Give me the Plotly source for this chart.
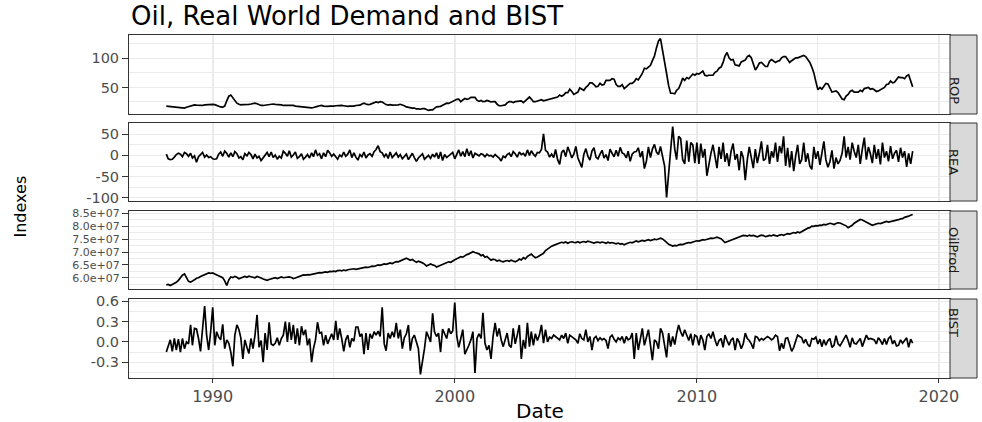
import pandas as pd
import plotly.graph_objects as go

# ---------------- data (monthly, Feb 1988 .. Dec 2018) ----------------
start_month = "1988-02-01"

rop = [
    18, 17.5, 17, 17, 16.5, 16, 15.5, 15, 14, 14.5, 16,
    17, 17.5, 18.5, 20, 19.5, 19, 19.5, 19, 20, 20.5, 20, 21,
    21, 20.5, 19, 17, 16.5, 16, 18, 27, 35, 37, 32, 26,
    23, 21, 20, 20.5, 20.5, 20, 21, 21.5, 22, 23, 22, 20,
    19, 19, 19.5, 20, 21, 22, 21.5, 21, 21, 21, 20, 19,
    19, 19.5, 19.5, 19.5, 19, 18, 17.5, 17, 17, 17, 16, 15,
    15, 15, 15.5, 16, 17.5, 18.5, 19, 18, 17.5, 17.5, 18, 17.5,
    18, 18.5, 19, 19.5, 19, 18.5, 17.5, 17.5, 18, 17.5, 18, 19,
    19.5, 19.5, 21.5, 23, 21.5, 20.5, 21, 22, 23.5, 25, 24, 25.5,
    25, 22, 20.5, 19.5, 20.5, 19.5, 19.5, 20, 20, 21, 20, 18.5,
    16.5, 15.5, 14.5, 14.5, 14.5, 13, 13, 12.5, 13.5, 13.5, 12, 10.5,
    11.5, 11.5, 14, 16.5, 17, 17.5, 19.5, 21, 23, 22.5, 24.5, 26,
    27, 29.5, 30, 25.5, 28.5, 31, 29.5, 30.5, 33, 32.5, 33, 28,
    26, 27.5, 25.5, 26, 27.5, 26.5, 25, 25.5, 25.5, 21, 18.5, 18.5,
    19, 20, 23.5, 25.5, 25.5, 24, 25.5, 26, 27.5, 27, 24, 27,
    31, 33.5, 30, 25.5, 25.5, 27, 28, 29, 27, 28, 28, 29,
    31, 31, 33, 33.5, 37, 35, 37, 41, 41, 47, 43, 38,
    40, 42, 49, 47, 45, 50, 53, 58, 58, 55, 51, 52,
    57, 54, 55, 62, 62, 62, 65, 64, 55, 52, 52, 55,
    48, 52, 54, 57, 57, 60, 65, 63, 69, 74, 83, 82,
    85, 88, 96, 104, 118, 130, 134, 115, 98, 74, 53, 40,
    40, 39, 45, 48, 56, 66, 62, 67, 65, 70, 73, 71,
    74, 73, 75, 78, 71, 70, 71, 71, 71, 76, 78, 83,
    85, 93, 104, 110, 101, 97, 98, 89, 88, 87, 94, 96,
    97, 103, 105, 101, 92, 80, 85, 92, 93, 89, 86, 86,
    95, 98, 95, 93, 95, 96, 101, 103, 103, 99, 93, 96,
    98, 101, 101, 102, 103, 105, 103, 98, 93, 85, 75, 60,
    46, 50, 47, 52, 57, 56, 48, 42, 43, 44, 41, 36,
    30, 29, 35, 38, 43, 45, 42, 42, 42, 45, 43, 48,
    49, 50, 47, 48, 46, 43, 44, 46, 49, 50, 55, 56,
    61, 58, 59, 63, 68, 67, 67, 65, 70, 72, 60, 51,
]

rea = [
    3, -8, -10, -9, -4, 2, 5, 3, -3, 7, 4,
    -2, 5, -6, -1, -16, -3, 2, 7, -4, 1, -5, -3,
    -8, -9, -8, 3, 8, -2, 10, 5, -4, 6, -3, 9,
    4, -6, -3, -10, 4, -1, 7, 2, -8, 3, -6, -2,
    -12, -5, 3, 7, -3, 8, -5, 1, -9, -2, -6, 10,
    5, -2, 11, -4, 1, 8, -7, -3, 4, -9, -4, 2,
    -6, 6, -3, 13, 0, 4, -8, 6, -3, 12, 6, -2,
    3, -4, -9, 1, -3, 8, -2, 3, 13, -5, 6, -4,
    -11, 2, -3, 8, -6, 1, 4, -2, 9, 14, 23, 9,
    6, -3, 4, -7, 8, -5, 1, 6, -4, 2, -8, -3,
    3, -10, -2, 5, -5, -14, -6, -2, 4, -9, -3, 0,
    -7, 3, -4, 6, -8, 8, -12, 2, -5, -1, 3, 7,
    -8, 4, 13, -2, 9, -3, 16, -1, 11, -6, 5, 2,
    -1, 4, 2, -3, 3, -1, 0, -4, 2, -2, -6, -13,
    -2, -5, 2, 5, -3, 9, 4, -4, 8, 2, 5, -2,
    13, 0, 11, 3, -2, 7, 6, 14, 51, 12, 8, -4,
    3, -5, 14, -10, -21, 7, 13, -3, 20, 8, -6, 3,
    21, -6, -16, -28, 2, 16, -2, -11, 10, 18, -4, -8,
    3, 12, -6, 2, -12, 15, 5, -3, 12, -2, 19, 6,
    3, -6, 10, -14, 3, 8, 9, 18, -4, 10, -31, -14,
    20, -5, 15, 26, 8, 2, 21, -2, -25, -99, -45, 20,
    68, 15, -10, 45, 40, -10, -20, 35, -15, 30, 25, -18,
    30, -20, 28, -5, 15, -48, -20, 5, 25, -5, -30, 20,
    -8, 30, -15, 5, -25, 10, 28, -10, 3, -35, 10, -5,
    -58, -10, 20, -5, -30, 15, -18, 5, 33, -12, -8, 25,
    -20, 10, -5, 30, -15, 22, 5, 45, -25, 18, -28, 10,
    -37, 0, 25, -20, -10, 30, -15, 5, -25, -33, 20, -8,
    10, -22, 5, 33, -10, -28, -15, 12, -31, -5, -20, -12,
    5, 45, -5, 20, -10, 30, 10, -5, 25, -20, 15, 42,
    -10, 20, 5, -18, 25, -8, 15, -21, 30, -5, 10, -14,
    22, -8, 5, 12, -15, 18, -5, 10, -27, 5, -20, 10,
]

oilprod_millions = [
    57.2, 57.4, 57.0, 57.3, 57.8, 58.2, 59.0, 60.2, 61.0, 61.5, 60.2,
    58.6, 58.3, 58.9, 59.2, 59.8, 60.0, 60.5, 60.9, 61.2, 61.6, 61.9, 61.7,
    61.9, 61.5, 61.2, 60.8, 60.5, 60.0, 58.8, 57.0, 59.2, 60.3, 60.1, 60.5,
    60.2, 59.6, 59.9, 60.3, 60.5, 60.2, 60.6, 60.4, 60.1, 60.0, 60.5, 60.3,
    59.9, 59.5, 59.2, 59.0, 59.3, 59.6, 59.8, 60.0, 59.7, 60.1, 60.3, 60.0,
    60.2, 60.4, 60.3, 60.1, 59.7, 59.9, 60.2, 60.6, 60.8, 61.1, 61.0, 61.2,
    61.1, 61.3, 61.5, 61.4, 61.8, 62.0, 61.9, 62.2, 62.3, 62.1, 62.5, 62.4,
    62.6, 62.4, 62.8, 62.9, 62.7, 63.0, 62.8, 63.1, 63.3, 63.2, 63.5, 63.3,
    63.5, 63.7, 63.6, 63.9, 64.1, 64.0, 64.3, 64.5, 64.4, 64.7, 65.0, 64.8,
    65.1, 65.4, 65.2, 65.6, 65.8, 65.5, 66.0, 66.3, 66.2, 66.6, 67.0, 67.3,
    67.6, 67.2, 66.8, 67.1, 66.5, 66.0, 66.4, 66.2, 65.8, 65.3, 64.6, 65.0,
    65.4, 65.0, 64.8, 64.2, 64.5, 64.7, 65.1, 65.5, 65.9, 66.2, 66.0, 66.6,
    67.0, 67.4, 67.8, 68.2, 68.0, 68.6, 69.0, 69.3, 69.6, 70.1, 69.8, 69.5,
    69.3, 68.6, 68.9, 68.0, 68.3, 67.5, 66.8, 67.2, 67.0, 66.5, 66.8, 66.4,
    66.2, 66.5, 66.7, 66.4, 66.8, 66.5, 66.2, 66.6, 67.3, 66.9, 67.8, 67.3,
    68.3, 68.8, 69.2, 68.4, 67.8, 68.1, 68.5, 68.9, 69.5, 70.6, 71.2, 71.8,
    72.3, 72.6, 72.8, 73.0, 73.5, 73.8, 73.6, 73.9, 73.4, 73.8, 74.0, 73.8,
    73.7, 74.0, 73.6, 73.9, 74.1, 73.8, 74.2, 74.0, 73.7, 73.5, 73.8, 73.9,
    73.6, 73.9, 73.7, 73.4, 73.8, 73.5, 73.7, 73.4, 73.2, 73.5, 73.1, 73.3,
    72.8, 73.2, 73.5, 73.8, 73.6, 74.1, 74.3, 74.0, 74.2, 74.5, 74.3, 74.6,
    74.8, 74.5, 74.9, 75.0, 74.8, 75.2, 75.4, 75.1, 74.6, 73.8, 73.0, 72.6,
    72.3, 72.6, 72.4, 72.8, 73.0, 72.9, 73.3, 73.5, 73.7, 73.6, 73.9, 74.2,
    74.4, 74.3, 74.6, 74.8, 74.7, 75.0, 75.2, 75.4, 75.3, 75.6, 75.8, 75.5,
    75.2, 74.4, 73.7, 74.0, 74.3, 74.6, 74.9, 75.3, 75.6, 76.0, 76.3, 76.5,
    76.4, 76.2, 76.6, 76.3, 76.5, 76.1, 75.9, 76.3, 76.6, 76.4, 76.0, 76.2,
    76.5, 76.3, 76.7, 76.4, 76.2, 76.6, 76.8, 76.5, 76.9, 77.2, 77.0, 77.4,
    77.6, 77.4, 77.8, 77.5, 78.0, 78.4, 78.8, 79.3, 79.5, 80.1, 80.0, 80.3,
    80.2, 80.5, 80.4, 80.8, 80.6, 80.9, 81.2, 81.0, 80.7, 81.1, 81.4, 81.3,
    81.0, 80.5, 80.2, 79.5, 79.8, 80.4, 81.2, 81.8, 82.3, 82.7, 82.5, 82.1,
    81.5, 81.0, 80.6, 80.4, 80.7, 81.0, 81.2, 81.1, 81.4, 81.6, 81.9, 81.7,
    81.9, 82.1, 82.0, 82.3, 82.6, 82.9, 83.0, 83.5, 83.9, 84.0, 84.3, 84.6,
]
oilprod_unit = 1e6

bist = [
    -0.15, -0.05, 0.03, -0.14, 0.05, -0.12, 0.04, -0.15, 0.05, -0.10, 0.00,
    -0.03, 0.25, -0.05, 0.20, 0.19, 0.05, -0.14, 0.20, 0.53, 0.10, -0.12, 0.15,
    0.51, -0.05, 0.15, 0.07, 0.03, 0.26, -0.10, 0.03, -0.02, -0.15, -0.36, 0.10,
    0.25, 0.18, 0.06, -0.25, 0.03, -0.08, -0.17, 0.05, -0.10, 0.10, 0.40, -0.08,
    0.02, -0.30, 0.13, -0.12, 0.29, -0.03, -0.05, -0.02, 0.06, -0.05, 0.05, 0.10,
    0.30, 0.00, 0.29, 0.03, 0.25, -0.03, 0.20, -0.05, 0.23, 0.10, 0.18, -0.05,
    0.05, -0.30, -0.10, 0.03, 0.29, 0.13, 0.14, -0.05, 0.10, -0.03, 0.05, 0.12,
    0.03, 0.31, 0.03, 0.20, 0.05, -0.14, 0.03, 0.10, -0.08, 0.05, 0.01, 0.22,
    0.22, 0.08, 0.12, -0.18, 0.13, -0.12, 0.12, 0.05, 0.15, 0.10, 0.16, 0.08,
    0.51, -0.03, -0.13, 0.13, 0.05, 0.15, 0.07, 0.28, 0.05, 0.18, -0.10, 0.06,
    0.12, 0.25, -0.13, 0.05, 0.10, 0.00, -0.10, -0.48, -0.30, -0.10, 0.15, 0.08,
    0.00, 0.42, 0.15, 0.08, 0.13, -0.15, 0.19, 0.12, 0.05, 0.20, 0.12, 0.16,
    0.58, 0.08, -0.08, 0.05, 0.18, -0.18, -0.12, -0.05, 0.03, 0.15, -0.46, 0.05,
    0.12, 0.05, 0.43, -0.02, -0.12, -0.05, -0.25, 0.08, 0.28, 0.08, 0.20, 0.03,
    -0.07, 0.05, 0.13, -0.05, -0.08, 0.20, -0.03, 0.10, 0.25, -0.25, 0.03, -0.10,
    0.28, -0.07, 0.15, -0.05, 0.12, 0.02, 0.10, 0.25, -0.02, 0.18, 0.00, 0.07,
    0.05, 0.10, 0.08, 0.06, 0.03, 0.10, 0.05, 0.13, -0.02, 0.10, 0.08, 0.05,
    0.03, -0.02, 0.12, 0.05, 0.03, 0.18, 0.00, 0.08, -0.12, 0.05, 0.08, 0.02,
    0.06, 0.03, 0.05, 0.02, -0.10, 0.07, 0.10, 0.04, 0.00, 0.06, 0.03, 0.08,
    -0.02, 0.08, 0.03, 0.05, 0.13, -0.25, 0.13, -0.12, 0.05, 0.20, -0.05, 0.08,
    0.18, -0.05, -0.27, 0.03, 0.00, -0.10, 0.20, 0.13, -0.05, -0.23, 0.13, -0.07,
    0.08, -0.04, 0.12, 0.25, 0.15, 0.08, 0.18, 0.10, 0.02, 0.12, -0.05, 0.10,
    0.08, -0.05, 0.10, 0.03, -0.12, 0.08, 0.12, 0.05, 0.15, 0.03, -0.06, 0.02,
    0.05, -0.08, 0.10, 0.02, -0.05, 0.03, 0.06, -0.12, 0.05, 0.00, -0.10, -0.03,
    0.13, 0.05, 0.02, -0.03, -0.10, 0.08, 0.07, 0.02, 0.05, 0.03, 0.06, 0.08,
    0.06, 0.03, 0.05, 0.10, 0.08, -0.13, -0.02, -0.10, 0.05, 0.06, -0.04, -0.14,
    -0.08, 0.02, 0.10, 0.08, 0.06, -0.02, 0.04, -0.04, -0.07, 0.05, 0.04, 0.07,
    -0.03, 0.04, -0.07, 0.03, -0.05, 0.02, 0.05, -0.08, -0.05, 0.09, -0.03, -0.06,
    0.00, 0.05, 0.10, 0.02, -0.08, 0.06, -0.02, -0.03, 0.02, 0.05, -0.07, 0.01,
    0.10, 0.04, 0.05, 0.04, 0.03, -0.03, 0.06, 0.02, -0.04, 0.05, -0.04, 0.05,
    0.08, -0.03, 0.02, -0.06, -0.05, 0.03, -0.02, 0.02, 0.06, -0.08, 0.04, -0.02,
]

panel_names = ["ROP", "REA", "OilProd", "BIST"]

rop_ticks = [50, 100]
rop_minor = [25, 75, 125]
rea_ticks = [-100, -50, 0, 50]
rea_minor = [-75, -25, 25, 75]
oil_ticks = [6.0e7, 6.5e7, 7.0e7, 7.5e7, 8.0e7, 8.5e7]
oil_tick_labels = ["6.0e+07", "6.5e+07", "7.0e+07", "7.5e+07", "8.0e+07", "8.5e+07"]
oil_minor = [5.75e7, 6.25e7, 6.75e7, 7.25e7, 7.75e7, 8.25e7]
bist_ticks = [-0.3, 0.0, 0.3, 0.6]
bist_tick_labels = ["-0.3", "0.0", "0.3", "0.6"]
bist_minor = [-0.45, -0.15, 0.15, 0.45]
x_tick_years = [1990, 2000, 2010, 2020]
x_minor_years = [1995, 2005, 2015]

# ---------------- figure ----------------
oilprod = [v * oilprod_unit for v in oilprod_millions]
n = len(rop)
assert len(rea) == n and len(oilprod) == n and len(bist) == n
dates = pd.date_range(start_month, periods=n, freq="MS")

series = [rop, rea, oilprod, bist]
W, H = 982, 422
x_dom = [129 / W, 950 / W]
panel_px = [(35, 114), (123, 201), (211, 289), (299, 378)]
y_doms = [[1 - b / H, 1 - t / H] for (t, b) in panel_px]

def expand(lo, hi, f=0.05):
    d = hi - lo
    return lo - f * d, hi + f * d

d0, d1 = dates[0], dates[-1]
span = d1 - d0
x_range = [d0 - span * 0.05, d1 + span * 0.05]

GRID = "#ebebeb"
FONT = "DejaVu Sans"
YTICK_SIZES = [14.5, 14.5, 11, 14.5]
XTICKFONT = dict(family=FONT, size=16, color="#4d4d4d")

fig = go.Figure()
for i, ys in enumerate(series):
    k = "" if i == 0 else str(i + 1)
    fig.add_trace(go.Scatter(x=dates, y=ys, mode="lines",
                             line=dict(color="black", width=1.7),
                             xaxis="x" + k, yaxis="y" + k, showlegend=False,
                             hoverinfo="skip"))

y_specs = [
    (rop_ticks, [str(v) for v in rop_ticks], rop_minor),
    (rea_ticks, [str(v) for v in rea_ticks], rea_minor),
    (oil_ticks, oil_tick_labels, oil_minor),
    (bist_ticks, bist_tick_labels, bist_minor),
]

layout = dict(
    width=W, height=H, autosize=False,
    margin=dict(l=0, r=0, t=0, b=0, pad=0, autoexpand=False),
    paper_bgcolor="white", plot_bgcolor="white", showlegend=False,
)
xt = [pd.Timestamp(f"{y}-01-01") for y in x_tick_years]
xm = [pd.Timestamp(f"{y}-01-01") for y in x_minor_years]
for i in range(4):
    k = "" if i == 0 else str(i + 1)
    bottom = i == 3
    lo, hi = expand(min(series[i]), max(series[i]))
    tv, tt, mv = y_specs[i]
    layout["xaxis" + k] = dict(
        domain=x_dom, anchor="y" + k, type="date", range=x_range,
        automargin=False,
        tickmode="array", tickvals=xt, ticktext=[str(y) for y in x_tick_years],
        showticklabels=bottom, ticks="outside" if bottom else "",
        ticklen=4, tickwidth=1, tickcolor="#333333", tickfont=XTICKFONT,
        showgrid=True, gridcolor=GRID, gridwidth=1.8,
        minor=dict(tickmode="array", tickvals=xm, showgrid=True,
                   gridcolor=GRID, gridwidth=0.9, ticks=""),
        showline=True, mirror=True, linecolor="#333333", linewidth=1,
        zeroline=False,
    )
    layout["yaxis" + k] = dict(
        domain=y_doms[i], anchor="x" + k, range=[lo, hi],
        automargin=False,
        tickmode="array", tickvals=tv, ticktext=tt,
        ticks="outside", ticklen=6, tickwidth=1, tickcolor="#333333",
        tickfont=dict(family=FONT, size=YTICK_SIZES[i], color="#4d4d4d"),
        showgrid=True, gridcolor=GRID, gridwidth=1.1,
        minor=dict(tickmode="array", tickvals=mv, showgrid=True,
                   gridcolor=GRID, gridwidth=0.6, ticks=""),
        showline=True, mirror=True, linecolor="#333333", linewidth=1,
        zeroline=False,
    )
fig.update_layout(**layout)

shapes = []
annotations = []
for i, name in enumerate(panel_names):
    y0, y1 = y_doms[i]
    shapes.append(dict(type="rect", xref="paper", yref="paper",
                       x0=950 / W, x1=977 / W, y0=y0, y1=y1,
                       fillcolor="#d9d9d9", line=dict(color="#333333", width=1),
                       layer="above"))
    annotations.append(dict(x=963.5 / W, y=(y0 + y1) / 2, xref="paper", yref="paper",
                            text=name, showarrow=False, textangle=90,
                            font=dict(family=FONT, size=13, color="#1a1a1a")))

annotations.append(dict(x=129 / W, y=1 - 15.5 / H, xref="paper", yref="paper",
                        xanchor="left", yanchor="middle", showarrow=False,
                        text="Oil, Real World Demand and BIST",
                        font=dict(family=FONT, size=26, color="black")))
annotations.append(dict(x=(x_dom[0] + x_dom[1]) / 2, y=1 - 411 / H, xref="paper", yref="paper",
                        xanchor="center", yanchor="middle", showarrow=False,
                        text="Date", font=dict(family=FONT, size=20, color="black")))
annotations.append(dict(x=20 / W, y=1 - 206.5 / H, xref="paper", yref="paper",
                        xanchor="center", yanchor="middle", showarrow=False,
                        text="Indexes", textangle=-90,
                        font=dict(family=FONT, size=16, color="black")))
fig.update_layout(shapes=shapes, annotations=annotations)

fig.write_html("out.html", config={"responsive": False})
